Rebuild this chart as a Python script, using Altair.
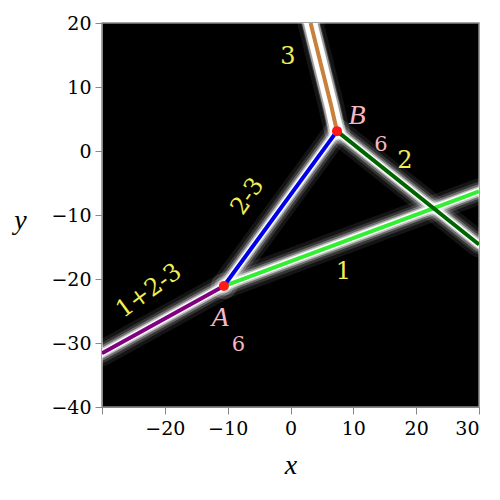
import altair as alt
import pandas as pd

# segments of the curve (x, y points per segment)
seg_names = ["1+2-3", "1", "2-3", "2", "3"]
seg_x = [[-30, -10.6], [-10.6, 30], [-10.6, 7.4], [7.4, 30], [7.4, 7.0, 6.5, 3.2]]
seg_y = [[-31.6, -21.1], [-21.1, -6.3], [-21.1, 3.1], [3.1, -14.6], [3.1, 4.8, 7.0, 20]]
seg_colors = ["#800080", "#33ee33", "#0000e6", "#006400", "#c8803c"]

# vertices
pt_names = ["A", "B"]
pt_x = [-10.6, 7.4]
pt_y = [-21.1, 3.1]

# yellow labels
ylab_text = ["3", "2", "2-3", "1", "1+2-3"]
ylab_x = [-0.4, 18.2, -6.8, 8.4, -22.5]
ylab_y = [14.7, -1.6, -7.1, -18.9, -21.9]
ylab_angle = [0, 0, 305, 0, 324]

# pink italic vertex names
plab_text = ["A", "B"]
plab_x = [-11.2, 10.6]
plab_y = [-26.1, 5.4]

# pink multiplicity labels
mlab_text = ["6", "6"]
mlab_x = [-8.3, 14.4]
mlab_y = [-30.3, 1.0]

tick_vals = list(range(-40, 31, 5))

rows = []
for name, xs, ys in zip(seg_names, seg_x, seg_y):
    for i, (xv, yv) in enumerate(zip(xs, ys)):
        rows.append({"seg": name, "x": xv, "y": yv, "o": i})
lines_df = pd.DataFrame(rows)
pts_df = pd.DataFrame({"name": pt_names, "x": pt_x, "y": pt_y})
ylab_df = pd.DataFrame({"t": ylab_text, "x": ylab_x, "y": ylab_y, "a": ylab_angle})
plab_df = pd.DataFrame({"t": plab_text, "x": plab_x, "y": plab_y})
mlab_df = pd.DataFrame({"t": mlab_text, "x": mlab_x, "y": mlab_y})

serif_it = "Liberation Serif"
serif = "DejaVu Serif"
lab_expr = "datum.value % 10 === 0 && datum.value > -30 ? replace(datum.label, '-', '\u2212') : ''"
lab_expr_y = "datum.value % 10 === 0 ? replace(datum.label, '-', '\u2212') : ''"
tick_size = {"condition": {"test": "datum.value % 10 === 0", "value": 7}, "value": 4}

xscale = alt.Scale(domain=[-30, 30], nice=False, zero=False)
yscale = alt.Scale(domain=[-40, 20], nice=False, zero=False)

xaxis = alt.Axis(values=[v for v in tick_vals if v >= -30], labelExpr=lab_expr,
                 tickSize=tick_size, grid=False, title="x", titleFontStyle="italic",
                 titleFont=serif_it, titleFontSize=28, titleFontWeight="normal",
                 titleY=58, titleBaseline="middle", labelFont=serif, labelFontSize=19,
                 labelColor="black", tickColor="#888888", domainColor="#888888",
                 labelPadding=5, labelOverlap=False)
yaxis = alt.Axis(values=tick_vals, labelExpr=lab_expr_y, tickSize=tick_size, grid=False,
                 title="y", titleFontStyle="italic", titleFont=serif_it, titleFontSize=28,
                 titleFontWeight="normal", titleAngle=0, titleX=-82, titleY=197,
                 titleBaseline="middle", titleAlign="center", labelFont=serif,
                 labelFontSize=19, labelColor="black", tickColor="#888888",
                 domainColor="#888888", labelPadding=4, labelOverlap=False)

base = alt.Chart(lines_df).encode(
    x=alt.X("x:Q", scale=xscale, axis=xaxis),
    y=alt.Y("y:Q", scale=yscale, axis=yaxis),
    detail="seg:N",
    order="o:Q",
)

glows = []
for w, op in [(26, 0.08), (19, 0.14), (14, 0.28), (10, 0.55), (7, 1.0)]:
    glows.append(base.mark_line(color="white", strokeWidth=w, opacity=op, clip=True,
                                strokeCap="round", strokeJoin="round"))
for w, op in [(17, 0.5), (13, 1.0)]:
    glows.append(base.mark_line(color="white", strokeWidth=w, opacity=op, clip=True,
                                strokeCap="round", strokeJoin="round").transform_filter(
                                    alt.datum.seg == "3"))

colored = base.mark_line(strokeWidth=4, clip=True, strokeJoin="round").encode(
    color=alt.Color("seg:N", scale=alt.Scale(domain=seg_names, range=seg_colors), legend=None)
)

points = alt.Chart(pts_df).mark_point(filled=True, color="#ff1a1a", size=100, opacity=1).encode(
    x="x:Q", y="y:Q"
)

ylabels = alt.Chart(ylab_df).mark_text(font=serif, fontSize=24, color="#f2ee55").encode(
    x="x:Q", y="y:Q", text="t:N", angle=alt.Angle("a:Q", scale=None)
)
plabels = alt.Chart(plab_df).mark_text(font=serif_it, fontSize=28, fontStyle="italic",
                                       color="#f5b8c4").encode(x="x:Q", y="y:Q", text="t:N")
mlabels = alt.Chart(mlab_df).mark_text(font=serif, fontSize=21,
                                       color="#f5b8c4").encode(
    x="x:Q", y="y:Q", text="t:N")

chart = alt.layer(*glows, colored, points, ylabels, plabels, mlabels).properties(
    width=377, height=384,
    autosize=alt.AutoSizeParams(type="none"),
    padding={"left": 94, "top": 15, "right": 13, "bottom": 85},
    background="white",
).configure_view(fill="black", stroke="#888888", strokeWidth=1.5)

chart.save("out.html", embed_options={"renderer": "svg", "actions": False})
